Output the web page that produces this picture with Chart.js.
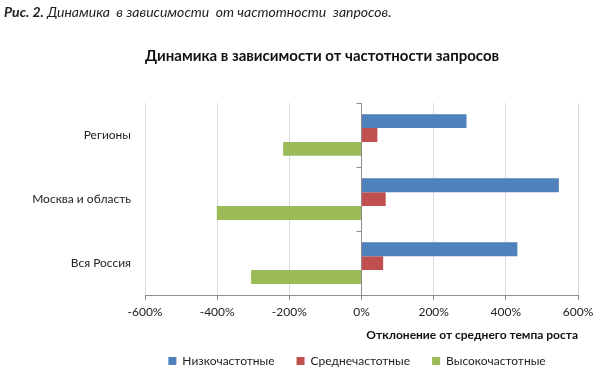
<!DOCTYPE html>
<html lang="ru">
<head>
<meta charset="utf-8">
<script src="https://cdn.jsdelivr.net/npm/chart.js@4"></script>
<style>
  html, body { margin: 0; padding: 0; background: #fff; }
  #wrap { position: relative; width: 600px; height: 387px; }
  #caption {
    position: absolute; left: 4px; top: 3px;
    font-family: Lato, "Noto Sans", sans-serif; font-style: italic;
    font-size: 14px; color: #222; white-space: pre;
  }
  #caption b { font-weight: bold; }
  #chart { position: absolute; left: 0; top: 0; }
</style>
</head>
<body>
<div id="wrap">
  <canvas id="chart" width="600" height="387"></canvas>
  <div id="caption"><b>Рис. 2.</b> Динамика  в зависимости  от частотности  запросов.</div>
</div>
<script>
// данные графика
const categories = ['Регионы', 'Москва и область', 'Вся Россия'];
const seriesNames = ['Низкочастотные', 'Среднечастотные', 'Высокочастотные'];
const seriesColors = ['#4F81BD', '#C0504D', '#9BBB59'];
const lowFreq = [291, 547, 432];
const midFreq = [44, 67, 60];
const highFreq = [-217, -401, -306];
const xMin = -600, xMax = 600, xStep = 200;

const FONT = 'Lato, "Noto Sans", sans-serif';

// короткие засечки на нулевой оси между категориями
const zeroAxisTicks = {
  id: 'zeroAxisTicks',
  afterDatasetsDraw: function(chart) {
    const x = chart.scales.x, y = chart.scales.y;
    const x0 = x.getPixelForValue(0);
    const c = chart.ctx;
    c.save();
    c.strokeStyle = '#8c8c8c';
    c.lineWidth = 1;
    c.beginPath();
    for (let i = 0; i <= categories.length; i++) {
      const py = Math.round(y.getPixelForValue(i - 0.5)) + 0.5;
      c.moveTo(x0 - 5, py);
      c.lineTo(x0, py);
    }
    c.stroke();
    c.restore();
  }
};

document.addEventListener('DOMContentLoaded', function() {
  const ctx = document.getElementById('chart');

  new Chart(ctx, {
    type: 'bar',
    data: {
      labels: categories,
      datasets: [
        { label: seriesNames[0], data: lowFreq, backgroundColor: seriesColors[0] },
        { label: seriesNames[1], data: midFreq, backgroundColor: seriesColors[1] },
        { label: seriesNames[2], data: highFreq, backgroundColor: seriesColors[2] }
      ]
    },
    options: {
      indexAxis: 'y',
      responsive: false,
      animation: false,
      datasets: { bar: { categoryPercentage: 0.65, barPercentage: 1.0 } },
      layout: { padding: { left: 0, right: 22, bottom: 10 } },
      plugins: {
        title: {
          display: true,
          text: 'Динамика в зависимости от частотности запросов',
          align: 'start',
          fullSize: false,
          color: '#111',
          font: { family: FONT, size: 15, weight: 'bold' },
          padding: { top: 47, bottom: 38 }
        },
        legend: {
          position: 'bottom',
          fullSize: false,
          labels: {
            color: '#222',
            font: { family: FONT, size: 12 },
            boxWidth: 8,
            boxHeight: 8,
            padding: 13,
            // extra gap after each label, as in the original legend
            generateLabels: function(chart) {
              const items = Chart.defaults.plugins.legend.labels.generateLabels(chart);
              items.forEach(function(it) { it.text = it.text + '\u2003'; });
              return items;
            }
          }
        },
        tooltip: { enabled: false }
      },
      scales: {
        x: {
          min: xMin,
          max: xMax,
          ticks: {
            stepSize: xStep,
            color: '#222',
            font: { family: FONT, size: 12 },
            padding: 5,
            callback: function(v) { return v + '%'; }
          },
          grid: {
            color: function(c) { return c.tick && c.tick.value === 0 ? '#8c8c8c' : '#d9d9d9'; },
            tickColor: '#8c8c8c',
            tickLength: 5
          },
          border: { color: '#8c8c8c' },
          title: {
            display: true,
            text: 'Отклонение от среднего темпа роста',
            align: 'end',
            color: '#111',
            font: { family: FONT, size: 12, weight: 'bold' },
            padding: { top: 3, bottom: 0 }
          }
        },
        y: {
          afterFit: function(scale) { scale.width = 145; },
          ticks: {
            color: '#222',
            font: { family: FONT, size: 12 },
            padding: 6
          },
          grid: { display: false },
          border: { display: false }
        }
      }
    },
    plugins: [zeroAxisTicks]
  });
});
</script>
</body>
</html>
